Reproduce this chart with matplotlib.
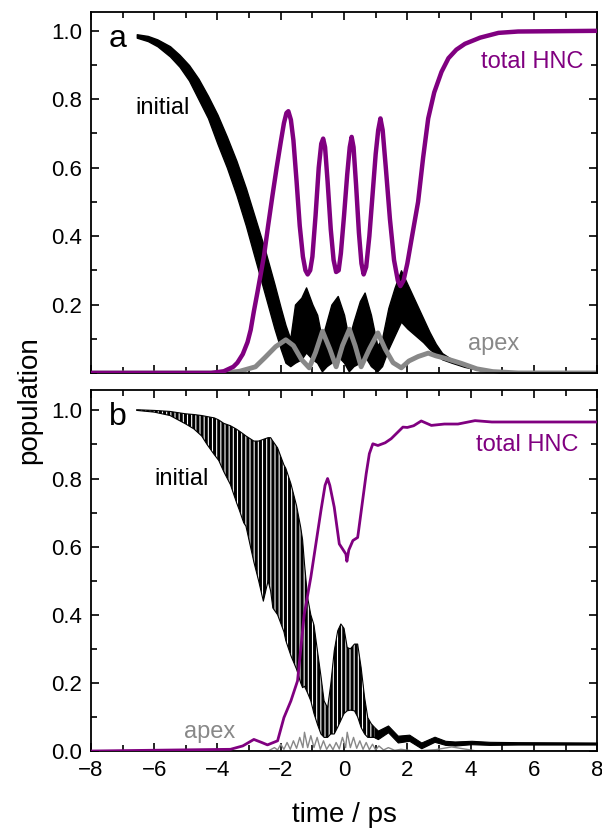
import matplotlib
matplotlib.use('Agg')
import matplotlib.pyplot as plt
from matplotlib.ticker import MultipleLocator

plt.rcParams.update({
    'font.family': ['Liberation Sans', 'DejaVu Sans'],
    'font.size': 16,
    'hatch.linewidth': 2.2,
})

PURPLE = '#800080'
GREY = '#888888'

# ---------------------------------------------------------------------------
# panel a : initial state (upper / lower envelope of the fast oscillation)
# ---------------------------------------------------------------------------
ta_init = [-6.55, -6.2, -5.9, -5.5, -5.2, -4.9, -4.6, -4.3, -4.0, -3.7, -3.4,
           -3.1, -2.8, -2.5, -2.2, -2.0, -1.85, -1.7, -1.55, -1.35, -1.2,
           -1.0, -0.85, -0.7, -0.55, -0.4, -0.2, 0.0, 0.15, 0.3, 0.5, 0.65,
           0.85, 1.05, 1.2, 1.4, 1.6, 1.8, 2.0, 2.25, 2.5, 2.7, 2.9, 3.1,
           3.4, 3.8, 4.3, 5.0, 6.0, 8.0]
a_init_hi = [0.99, 0.985, 0.975, 0.955, 0.93, 0.90, 0.86, 0.81, 0.755, 0.69,
             0.62, 0.54, 0.45, 0.36, 0.26, 0.19, 0.14, 0.10, 0.20, 0.22,
             0.25, 0.20, 0.17, 0.10, 0.15, 0.20, 0.225, 0.17, 0.10, 0.15,
             0.21, 0.235, 0.17, 0.08, 0.10, 0.19, 0.25, 0.30, 0.26, 0.21,
             0.16, 0.12, 0.085, 0.058, 0.04, 0.025, 0.012, 0.004, 0.002,
             0.002]
a_init_lo = [0.98, 0.97, 0.955, 0.925, 0.895, 0.855, 0.80, 0.745, 0.67, 0.60,
             0.52, 0.43, 0.33, 0.23, 0.13, 0.07, 0.03, 0.02, 0.03, 0.04,
             0.06, 0.04, 0.03, 0.005, 0.02, 0.03, 0.05, 0.03, 0.005, 0.02,
             0.03, 0.05, 0.02, 0.005, 0.02, 0.07, 0.11, 0.15, 0.13, 0.11,
             0.09, 0.07, 0.055, 0.04, 0.03, 0.018, 0.008, 0.0, 0.0, 0.0]

ta_hnc = [-8.0, -4.2, -3.8, -3.5, -3.37, -3.2, -3.05, -2.95, -2.85, -2.74,
          -2.53, -2.4, -2.26, -2.13, -2.0, -1.9, -1.82, -1.76, -1.68, -1.6,
          -1.5, -1.4, -1.3, -1.22, -1.15, -1.07, -1.0, -0.9, -0.8, -0.72,
          -0.66, -0.6, -0.52, -0.42, -0.33, -0.25, -0.17, -0.1, 0.0, 0.1,
          0.18, 0.24, 0.3, 0.38, 0.47, 0.55, 0.62, 0.7, 0.8, 0.9, 1.0, 1.08,
          1.15, 1.22, 1.32, 1.45, 1.58, 1.7, 1.78, 1.88, 2.0, 2.15, 2.34,
          2.5, 2.66, 2.85, 3.08, 3.3, 3.55, 3.82, 4.3, 4.88, 5.5, 8.0]
a_hnc = [0.0, 0.0, 0.005, 0.018, 0.03, 0.055, 0.09, 0.126, 0.18, 0.234,
         0.342, 0.43, 0.52, 0.60, 0.675, 0.73, 0.76, 0.765, 0.74, 0.68,
         0.56, 0.43, 0.34, 0.30, 0.288, 0.30, 0.34, 0.46, 0.60, 0.67,
         0.685, 0.66, 0.56, 0.42, 0.33, 0.295, 0.30, 0.35, 0.46, 0.58,
         0.66, 0.69, 0.66, 0.55, 0.41, 0.32, 0.288, 0.31, 0.40, 0.52, 0.64,
         0.71, 0.744, 0.71, 0.60, 0.45, 0.33, 0.27, 0.254, 0.27, 0.32, 0.40,
         0.50, 0.63, 0.744, 0.82, 0.88, 0.92, 0.945, 0.962, 0.98, 0.994,
         0.998, 1.0]

ta_apex = [-8.0, -3.8, -3.3, -2.8, -2.5, -2.16, -1.84, -1.6, -1.35, -1.1,
           -0.9, -0.68, -0.45, -0.25, -0.05, 0.17, 0.35, 0.54, 0.8, 1.07,
           1.3, 1.55, 1.81, 2.05, 2.34, 2.66, 2.9, 3.19, 3.71, 4.2, 4.7,
           5.5, 8.0]
a_apex = [0.0, 0.0, 0.005, 0.018, 0.045, 0.077, 0.097, 0.08, 0.04, 0.015,
          0.06, 0.122, 0.07, 0.018, 0.08, 0.128, 0.08, 0.018, 0.07, 0.117,
          0.07, 0.03, 0.015, 0.035, 0.048, 0.058, 0.05, 0.043, 0.028, 0.012,
          0.004, 0.0, 0.0]

# ---------------------------------------------------------------------------
# panel b
# ---------------------------------------------------------------------------
tb_init = [-6.55, -6.0, -5.5, -5.0, -4.75, -4.5, -4.33, -4.1, -3.96, -3.8,
           -3.59, -3.4, -3.32, -3.17, -3.1, -2.85, -2.7, -2.55, -2.4, -2.32,
           -2.25, -2.1, -1.9, -1.84, -1.68, -1.5, -1.37, -1.31, -1.25,
           -1.15, -1.05, -0.95, -0.84, -0.73, -0.63, -0.52, -0.42, -0.31,
           -0.2, -0.1, 0.0, 0.1, 0.2, 0.33, 0.43, 0.54, 0.65, 0.75, 0.86,
           0.96]
b_init_hi = [1.002, 1.0, 0.997, 0.99, 0.988, 0.985, 0.982, 0.978, 0.972,
             0.962, 0.955, 0.945, 0.94, 0.93, 0.925, 0.91, 0.91, 0.915, 0.92,
             0.92, 0.91, 0.89, 0.84, 0.83, 0.785, 0.72, 0.657, 0.62, 0.55,
             0.45, 0.40, 0.37, 0.294, 0.22, 0.147, 0.127, 0.196, 0.294,
             0.353, 0.373, 0.36, 0.304, 0.30, 0.314, 0.314, 0.245, 0.157,
             0.098, 0.08, 0.07]
b_init_lo = [1.0, 0.995, 0.985, 0.96, 0.946, 0.925, 0.90, 0.87, 0.853, 0.82,
             0.782, 0.73, 0.71, 0.67, 0.66, 0.555, 0.50, 0.44, 0.50, 0.47,
             0.42, 0.40, 0.35, 0.324, 0.28, 0.24, 0.20, 0.186, 0.19, 0.17,
             0.147, 0.11, 0.078, 0.05, 0.04, 0.04, 0.05, 0.05, 0.07, 0.09,
             0.11, 0.118, 0.12, 0.118, 0.10, 0.069, 0.05, 0.04, 0.04, 0.04]

tb_tail = [0.96, 1.07, 1.39, 1.7, 2.06, 2.44, 2.86, 3.2, 3.5, 4.03, 4.6, 5.5,
           8.0]
b_tail_hi = [0.07, 0.06, 0.075, 0.045, 0.048, 0.025, 0.042, 0.03, 0.028,
             0.03, 0.027, 0.026, 0.025]
b_tail_lo = [0.04, 0.035, 0.055, 0.025, 0.03, 0.008, 0.027, 0.018, 0.016,
             0.02, 0.018, 0.019, 0.019]

tb_hnc = [-8.0, -3.59, -3.2, -2.85, -2.6, -2.42, -2.1, -1.9, -1.68, -1.47,
          -1.26, -1.05, -0.73, -0.6, -0.52, -0.45, -0.31, -0.15, 0.06, 0.09,
          0.15, 0.28, 0.43, 0.45, 0.7, 0.8, 0.91, 1.07, 1.3, 1.49, 1.86, 2.0,
          2.2, 2.44, 2.76, 3.17, 3.6, 4.14, 4.67, 5.94, 8.0]
b_hnc = [0.0, 0.005, 0.015, 0.034, 0.025, 0.018, 0.03, 0.098, 0.147, 0.206,
         0.40, 0.51, 0.706, 0.78, 0.80, 0.78, 0.716, 0.608, 0.578, 0.557,
         0.59, 0.618, 0.627, 0.64, 0.814, 0.873, 0.902, 0.897, 0.905, 0.917,
         0.951, 0.95, 0.955, 0.969, 0.956, 0.96, 0.96, 0.97, 0.966, 0.966,
         0.966]

tb_apex = [-8.0, -2.4, -2.2, -2.1, -2.0, -1.9, -1.8, -1.7, -1.6, -1.5, -1.4,
           -1.3, -1.25, -1.15, -1.05, -0.95, -0.85, -0.75, -0.65, -0.55,
           -0.45, -0.35, -0.25, -0.15, -0.05, 0.05, 0.1, 0.2, 0.3, 0.4, 0.5,
           0.6, 0.7, 0.8, 0.9, 1.0, 1.1, 1.25, 1.4, 1.6, 1.8, 2.2, 2.9, 3.4,
           3.8, 4.2, 8.0]
b_apex = [0.0, 0.0, 0.01, 0.003, 0.02, 0.005, 0.025, 0.005, 0.03, 0.008,
          0.04, 0.01, 0.055, 0.01, 0.045, 0.01, 0.04, 0.005, 0.03, 0.005,
          0.02, 0.004, 0.025, 0.006, 0.04, 0.01, 0.055, 0.01, 0.04, 0.008,
          0.03, 0.005, 0.025, 0.004, 0.02, 0.003, 0.015, 0.003, 0.01, 0.002,
          0.005, 0.0, 0.004, 0.012, 0.006, 0.0, 0.0]


def style_axes(ax, ylim, yticks, show_x):
    ax.set_xlim(-8, 8)
    ax.set_ylim(*ylim)
    ax.xaxis.set_major_locator(MultipleLocator(2))
    ax.xaxis.set_minor_locator(MultipleLocator(1))
    ax.set_yticks(yticks)
    ax.yaxis.set_minor_locator(MultipleLocator(0.1))
    ax.tick_params(which='both', direction='in', top=True, right=True,
                   width=1.2, labelsize=16, pad=6.5)
    ax.tick_params(which='major', length=6)
    ax.tick_params(which='minor', length=4.5)
    ax.set_yticklabels([f'{v:.1f}' for v in yticks])
    if not show_x:
        ax.tick_params(labelbottom=False)
    for s in ax.spines.values():
        s.set_linewidth(1.3)


fig = plt.figure(figsize=(6.02, 8.34), dpi=100)
ax_a = fig.add_axes([0.151, 0.5528, 0.841, 0.4328])
ax_b = fig.add_axes([0.151, 0.0995, 0.841, 0.4329])

# ----- panel a -----
ax_a.fill_between(ta_init, a_init_lo, a_init_hi, color='black', lw=1.0,
                  zorder=1)
ax_a.plot(ta_apex, a_apex, color=GREY, lw=3.5, zorder=2)
ax_a.plot(ta_hnc, a_hnc, color=PURPLE, lw=3.2, zorder=3)
style_axes(ax_a, (0, 1.055), [0.2, 0.4, 0.6, 0.8, 1.0], show_x=False)
ax_a.text(-7.15, 0.975, 'a', fontsize=23, ha='center', va='center')
ax_a.text(-5.75, 0.775, 'initial', fontsize=17, ha='center', va='center')
ax_a.text(5.95, 0.91, 'total HNC', fontsize=17, ha='center', va='center',
          color=PURPLE)
ax_a.text(4.72, 0.085, 'apex', fontsize=17, ha='center', va='center',
          color=GREY)

# ----- panel b -----
ax_b.fill_between(tb_init, b_init_lo, b_init_hi, facecolor='none',
                  edgecolor='black', hatch='||||', lw=0, zorder=1)
ax_b.plot(tb_init, b_init_hi, color='black', lw=0.8, zorder=1)
ax_b.plot(tb_init, b_init_lo, color='black', lw=0.8, zorder=1)
ax_b.fill_between(tb_tail, b_tail_lo, b_tail_hi, color='black', lw=0.8,
                  zorder=1)
ax_b.plot(tb_apex, b_apex, color=GREY, lw=1.0, zorder=2)
ax_b.plot(tb_hnc, b_hnc, color=PURPLE, lw=2.0, zorder=3)
style_axes(ax_b, (0, 1.06), [0.0, 0.2, 0.4, 0.6, 0.8, 1.0], show_x=True)
ax_b.text(-7.15, 0.98, 'b', fontsize=23, ha='center', va='center')
ax_b.text(-5.15, 0.80, 'initial', fontsize=17, ha='center', va='center')
ax_b.text(5.8, 0.897, 'total HNC', fontsize=17, ha='center', va='center',
          color=PURPLE)
ax_b.text(-4.25, 0.055, 'apex', fontsize=17, ha='center', va='center',
          color=GREY)
ax_b.set_xlabel('time / ps', fontsize=20, labelpad=15)

fig.text(0.048, 0.52, 'population', rotation=90, fontsize=20,
         ha='center', va='center')

fig.savefig('out.png', dpi=100)
